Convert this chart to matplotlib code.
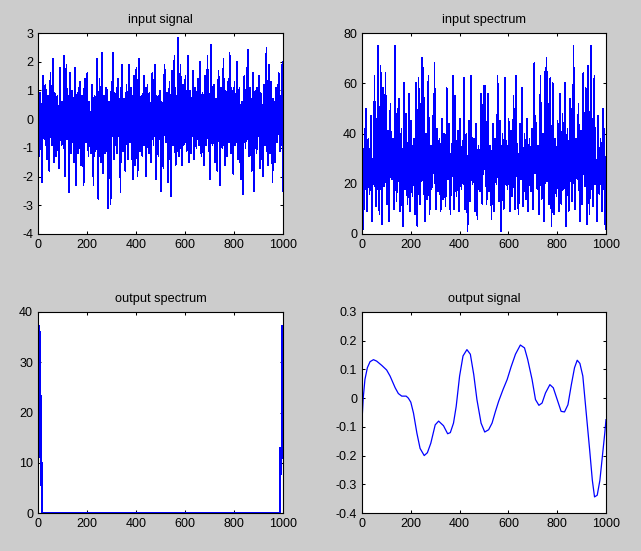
import numpy as np
import matplotlib
matplotlib.use("Agg")
import matplotlib.pyplot as plt

# 입력 신호 (1000 샘플을 2.5칸 간격으로 읽은 값)
input_signal = [
    2.0, -0.4, -1.3, 0.9, 0.5, -1.0, -2.2, 0.6, 1.5, -0.3, -0.7, 1.1, 1.2, -0.8, -1.4, 0.4, 0.8, -1.1, -1.8, 0.7,
    1.6, -0.5, -0.9, 1.2, 2.1, -0.2, -1.5, 0.9, 0.7, -1.3, -1.1, 0.8, 0.3, -0.6, -1.7, 1.0, 1.8, -0.4, -0.9, 0.6,
    0.6, -1.0, 2.2, -0.3, -2.0, 1.1, 1.9, -0.7, -0.4, 0.8, -2.55, 0.2, 1.6, -0.9, -1.2, 1.0, 0.9, -0.6, -1.5, 0.5,
    1.8, -0.6, -2.3, 0.7, 0.9, -1.2, -1.0, 1.1, 1.3, -0.4, -1.6, 0.8, 0.4, -0.9, -2.3, 1.0, 1.4, -0.3, -0.8, 0.9,
    1.6, -0.7, -1.3, 0.6, 0.2, -1.0, -1.2, 1.1, 1.2, -0.5, -2.3, 0.7, 0.8, -1.1, -1.0, 0.9, 2.1, -0.6, -2.8, 0.3,
    1.4, -0.8, -1.5, 1.0, 2.3, -0.4, -1.9, 0.8, 0.6, -1.2, -1.1, 1.1, 1.0, -0.5, -3.1, 0.6, 0.5, -1.0, -2.95, 0.9,
    1.3, -0.6, 2.3, -1.1, -1.4, 0.9, 0.8, -0.8, -1.2, 1.2, 1.4, -0.3, -0.6, 0.7, -2.55, 0.4, 1.9, -0.9, -1.1, 0.6,
    0.7, -1.2, -1.8, 0.5, 1.2, -0.7, -1.4, 1.0, 1.9, -0.4, -0.8, 1.1, 0.3, -1.0, -2.1, 0.8, 1.5, -0.5, -1.6, 0.9,
    1.8, -0.6, -2.0, 1.2, 2.1, -0.3, -1.1, 0.7, 0.8, -1.2, -1.3, 0.6, 1.5, -0.9, -0.6, 1.1, -2.0, 0.5, 1.2, -0.8,
    -1.2, 0.9, 0.4, -0.7, -1.5, 0.6, 1.6, -0.4, -0.9, 1.2, 1.9, -0.6, -2.1, 0.8, 0.6, -1.0, -1.3, 0.7, 1.0, -0.5,
    -2.5, 0.6, 0.4, -0.9, -1.7, 1.1, 1.9, -0.5, -0.8, 0.7, 0.9, -1.2, -2.2, 0.5, 1.3, -0.8, -2.7, 0.4, 1.7, -0.6,
    -0.9, 1.0, 2.2, -0.7, -1.6, 0.8, 0.6, -1.1, 2.85, -0.4, -1.3, 1.0, 1.9, -0.8, -1.6, 0.5, 1.2, -0.9, -0.5, 0.8,
    1.5, -0.6, -1.1, 0.9, 2.2, -0.3, -1.5, 1.0, 0.8, -1.2, -0.7, 0.6, 1.7, -0.5, -1.4, 1.1, 0.9, -0.8, -1.0, 0.7,
    1.4, -0.7, -0.9, 1.2, 2.0, -0.4, -1.3, 0.8, 0.9, -1.1, -1.6, 0.6, 1.5, -0.9, -0.6, 0.7, 2.2, -0.5, -1.1, 0.9,
    -2.1, 0.7, 2.6, -0.6, -0.9, 1.1, 1.2, -0.8, -1.5, 0.5, 0.7, -1.0, -1.8, 0.9, 1.7, -0.4, -2.3, 0.8, 1.1, -0.7,
    -1.0, 0.8, 2.1, -0.5, -1.6, 1.0, 0.9, -1.2, -1.3, 0.6, 1.4, -0.8, 2.3, -0.3, -1.2, 1.1, 0.8, -0.6, -1.9, 0.7,
    1.3, -0.9, -0.8, 1.0, 2.0, -0.4, -1.4, 0.7, 1.1, -1.0, -2.1, 0.5, 0.6, -1.2, -2.6, 0.9, 1.5, -0.5, -1.0, 0.8,
    1.8, -0.7, 2.4, -0.6, -1.3, 1.1, 0.5, -0.9, -1.8, 0.7, 1.6, -0.4, -2.5, 0.6, 1.0, -0.8, -1.2, 1.1, 0.9, -0.6,
    1.5, -0.8, -1.7, 0.9, 0.8, -1.1, -2.0, 0.6, 1.2, -0.5, -0.9, 1.0, 2.5, -0.7, -1.6, 0.8, 1.9, -0.4, -1.2, 0.9,
    1.3, -0.6, -2.2, 0.7, 0.6, -1.0, -1.5, 1.1, 1.0, -0.8, -0.7, 0.9, 1.6, -0.5, -1.1, 0.8, -0.9, 0.5, 2.0, -2.5,
]

# 입력 스펙트럼: 0~500 구간 (|FFT|는 500 기준 대칭)
input_spectrum_half = [
    33, 20, 2, 28, 42, 18, 50, 25, 9, 32, 38, 22, 16, 30, 47, 14, 5, 26, 30, 20,
    63, 24, 11, 35, 46, 18, 75, 28, 8, 30, 67, 22, 4, 27, 58, 19, 20, 34, 64, 25,
    12, 31, 41, 20, 5, 28, 52, 23, 22, 36, 38, 17, 10, 29, 75, 26, 13, 33, 50, 21,
    54, 24, 9, 30, 42, 19, 3, 27, 60, 25, 18, 34, 48, 21, 12, 29, 56, 23, 9, 31,
    45, 22, 15, 33, 38, 20, 8, 28, 60, 24, 3, 30, 62, 26, 12, 35, 52, 21, 70, 27,
    66, 23, 5, 31, 40, 19, 14, 28, 63, 25, 8, 33, 35, 18, 20, 30, 47, 24, 68, 26,
    10, 32, 42, 21, 17, 29, 38, 23, 9, 34, 46, 20, 14, 27, 40, 22, 11, 31, 58, 24,
    22, 35, 44, 19, 8, 28, 36, 23, 63, 25, 10, 32, 55, 21, 15, 30, 41, 24, 9, 29,
    46, 22, 18, 33, 37, 20, 62, 26, 10, 31, 40, 19, 1, 27, 45, 23, 13, 34, 63, 25,
    20, 30, 38, 21, 9, 29, 44, 24, 6, 32, 35, 19, 17, 28, 56, 23, 12, 31, 59, 26,
]
input_spectrum = input_spectrum_half + input_spectrum_half[:0:-1]

# 출력 스펙트럼: 양 끝 저주파 성분만 남음
out_spec_x = [1, 4, 6, 8, 10, 11, 12, 13, 14, 15,
              989, 990, 991, 992, 993, 994, 995, 996, 997, 998, 999, 1000]
out_spec_y = [37.2, 37.2, 12, 36, 11, 23.2, 11, 21, 11, 0,
              0, 13, 11, 12.5, 11, 12, 11, 37.2, 25, 27, 24, 27]

# 출력 신호 (필터링 결과, 곡선 위 점을 읽은 값)
out_sig_x = [1, 5, 12, 22, 33, 47, 60, 81, 101, 115, 136, 149, 163, 181, 190,
             200, 211, 225, 238, 255, 268, 282, 300, 314, 334, 351, 362, 375,
             386, 400, 414, 430, 444, 458, 471, 488, 503, 519, 533, 547, 560,
             578, 595, 611, 629, 649, 666, 679, 697, 711, 725, 738, 752, 770,
             784, 800, 816, 830, 844, 858, 871, 882, 893, 905, 919, 933, 944,
             953, 964, 975, 985, 995, 1000]
out_sig_y = [-0.063, 0.0, 0.065, 0.106, 0.127, 0.134, 0.129, 0.114, 0.098,
             0.077, 0.036, 0.016, 0.007, 0.007, 0.0, -0.014, -0.052, -0.122,
             -0.175, -0.200, -0.190, -0.157, -0.093, -0.080, -0.096, -0.124,
             -0.120, -0.087, -0.029, 0.077, 0.147, 0.169, 0.153, 0.082,
             -0.005, -0.087, -0.118, -0.110, -0.087, -0.046, -0.011, 0.030,
             0.065, 0.109, 0.153, 0.185, 0.175, 0.135, 0.065, -0.005, -0.025,
             -0.017, 0.018, 0.047, 0.036, -0.005, -0.046, -0.048, -0.023,
             0.047, 0.106, 0.132, 0.121, 0.077, -0.052, -0.180, -0.286,
             -0.344, -0.338, -0.286, -0.204, -0.122, -0.075]

x_ticks = [0, 200, 400, 600, 800, 1000]
titles = ["input signal", "input spectrum", "output spectrum", "output signal"]
y_ticks = [
    [-4, -3, -2, -1, 0, 1, 2, 3],
    [0, 20, 40, 60, 80],
    [0, 10, 20, 30, 40],
    [-0.4, -0.3, -0.2, -0.1, 0, 0.1, 0.2, 0.3],
]
y_labels = [
    ["-4", "-3", "-2", "-1", "0", "1", "2", "3"],
    ["0", "20", "40", "60", "80"],
    ["0", "10", "20", "30", "40"],
    ["-0.4", "-0.3", "-0.2", "-0.1", "0", "0.1", "0.2", "0.3"],
]

plt.rcParams["font.family"] = ["Liberation Sans", "DejaVu Sans"]

fig = plt.figure(figsize=(6.41, 5.51), dpi=100, facecolor="#cccccc")

# MATLAB subplot 위치 (픽셀 기준으로 맞춤)
W, H = 641, 551
boxes = [(38, 33, 245, 201), (362, 33, 244, 201),
         (38, 312, 245, 201), (362, 312, 244, 201)]
axes = [fig.add_axes([l / W, 1 - (t + h) / H, w / W, h / H]) for l, t, w, h in boxes]

x_in = np.linspace(1, 1000, len(input_signal))
x_spec = np.linspace(1, 1000, len(input_spectrum))

# MATLAB 느낌: 안티앨리어싱 없이 1px 파란 선
line_kw = dict(color="#0000ff", lw=0.5, antialiased=False)
axes[0].plot(x_in, input_signal, **line_kw)
axes[1].plot(x_spec, input_spectrum, **line_kw)
axes[2].plot(out_spec_x, out_spec_y, color="#0000ff", lw=0.8, antialiased=False)
axes[3].plot(out_sig_x, out_sig_y, color="#0000ff", lw=0.9)

for i, ax in enumerate(axes):
    ax.set_facecolor("white")
    ax.set_xlim(0, 1000)
    ax.set_ylim(y_ticks[i][0], y_ticks[i][-1])
    ax.set_xticks(x_ticks)
    ax.set_xticklabels([str(t) for t in x_ticks])
    ax.set_yticks(y_ticks[i])
    ax.set_yticklabels(y_labels[i])
    ax.tick_params(direction="in", length=2.5, width=0.75, top=True, right=True,
                   labelsize=9, pad=3.5, colors="black")
    for sp in ax.spines.values():
        sp.set_linewidth(0.8)
        sp.set_color("black")
    ax.set_title(titles[i], fontsize=9.2, pad=7)

fig.savefig("out.png", dpi=100, facecolor=fig.get_facecolor())
